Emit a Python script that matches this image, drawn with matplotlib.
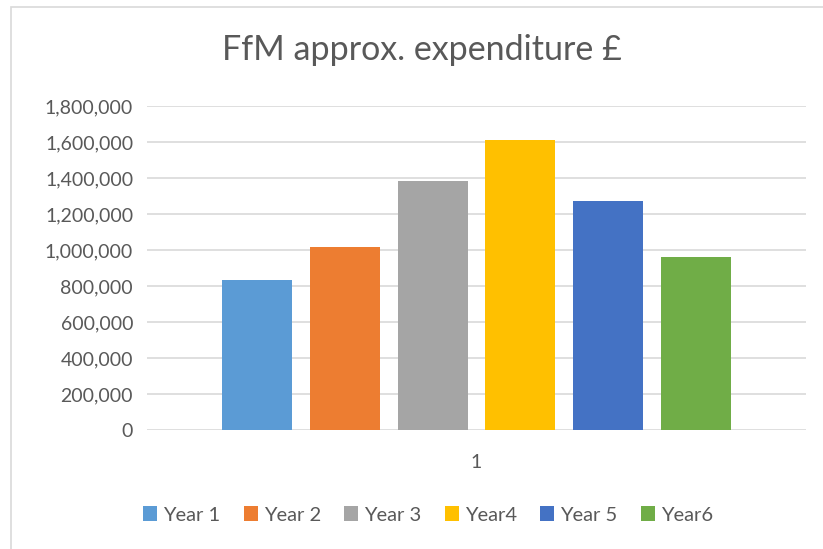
import matplotlib
matplotlib.use('Agg')
import matplotlib.pyplot as plt
from matplotlib.patches import Rectangle
from matplotlib.ticker import FuncFormatter

# Datos
series = ["Year 1", "Year 2", "Year 3", "Year4", "Year 5", "Year6"]
valores = [832000, 1015000, 1382000, 1610000, 1271000, 960000]
colores = ["#5B9BD5", "#ED7D31", "#A5A5A5", "#FFC000", "#4472C4", "#70AD47"]
categoria = "1"

plt.rcParams['font.family'] = ['Lato', 'DejaVu Sans']
gris_texto = "#595959"

fig = plt.figure(figsize=(8.23, 5.49), dpi=100)
ax = fig.add_axes([147 / 823, 1 - 430 / 549, (806 - 147) / 823, (430 - 106) / 549])

for i, (nombre, v, c) in enumerate(zip(series, valores, colores)):
    ax.bar(i, v, width=0.8, color=c, label=nombre, zorder=3)

ax.set_xlim(-1.254, 6.254)
ax.set_ylim(0, 1800000)
ax.set_yticks(range(0, 1800001, 200000))
ax.yaxis.set_major_formatter(FuncFormatter(lambda v, p: f"{int(v):,}"))
ax.set_xticks([2.5])
ax.set_xticklabels([categoria])
ax.tick_params(axis='both', length=0, labelsize=14, colors=gris_texto)
ax.tick_params(axis='x', pad=17)
ax.tick_params(axis='y', pad=10)
ax.grid(axis='y', color="#d9d9d9", linewidth=1.2, zorder=0)
for s in ax.spines.values():
    s.set_visible(False)

fig.text(0.513, 0.909, "FfM approx. expenditure £", ha='center', va='center',
         fontsize=24.5, color=gris_texto)

fig.legend(loc='center', bbox_to_anchor=(0.52, 0.062), ncol=6, frameon=False,
           fontsize=14.5, handlelength=0.7, handleheight=0.7, handletextpad=0.3,
           columnspacing=1.15, labelcolor=gris_texto)

# Borde del área del gráfico
fig.patches.append(Rectangle((10.5 / 823, -0.05), 1.1, 1.05 - 6.5 / 549,
                             transform=fig.transFigure, fill=False,
                             edgecolor="#d9d9d9", linewidth=1.2))

fig.savefig("out.png", dpi=100)
